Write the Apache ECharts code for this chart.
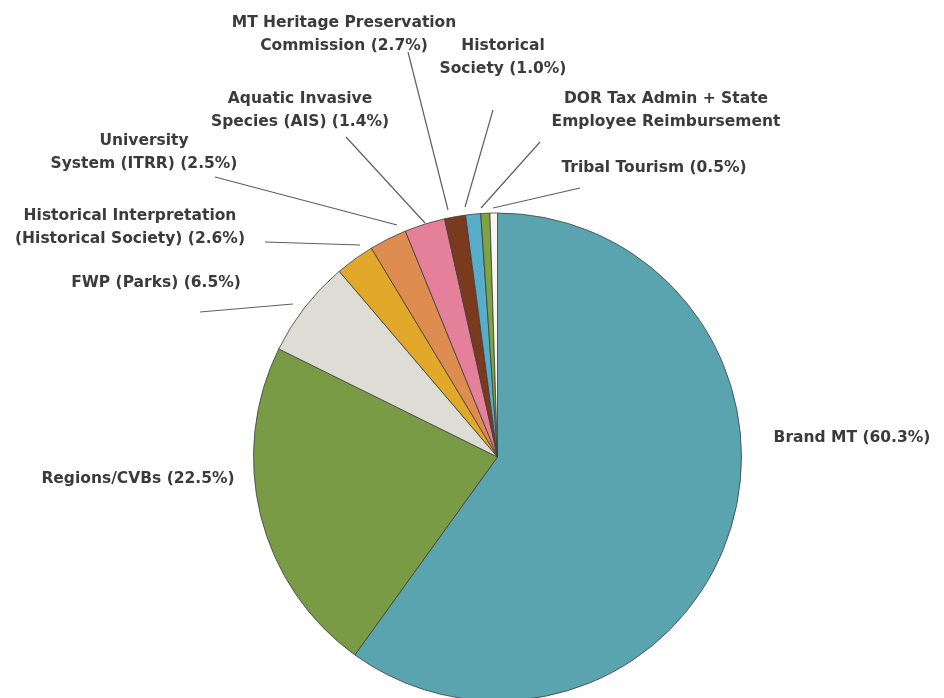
<!DOCTYPE html>
<html>
<head>
<meta charset="utf-8">
<title>Lodging Facility Use Tax Distribution</title>
<script src="https://cdn.jsdelivr.net/npm/echarts@6/dist/echarts.min.js"></script>
<style>
  html, body { margin: 0; padding: 0; background: #ffffff; }
  #chart { width: 944px; height: 698px; }
</style>
</head>
<body>
<div id="chart"></div>
<script>
// Program names, in slice order (clockwise from 12 o'clock)
const programs = [
  'Brand MT',
  'Regions/CVBs',
  'FWP (Parks)',
  'Historical Interpretation\n(Historical Society)',
  'University\nSystem (ITRR)',
  'MT Heritage Preservation\nCommission',
  'Aquatic Invasive\nSpecies (AIS)',
  'Historical\nSociety',
  'DOR Tax Admin + State\nEmployee Reimbursement',
  'Tribal Tourism'
];

// Share of the distribution, percent
const shares = [60.3, 22.5, 6.5, 2.6, 2.5, 2.7, 1.4, 1.0, 0.6, 0.5];

// Whether the label prints its percentage
const showShare = [true, true, true, true, true, true, true, true, false, true];

const sliceColors = [
  '#5aa4b0', '#7a9b46', '#deddd5', '#e2a82a', '#df8c50',
  '#e5809b', '#7a3a1d', '#57aec8', '#7ea33f', '#f6f6f2'
];

// Label placement: text centre and leader line (label end -> rim end)
const labelPlacement = [
  { at: [852, 438], line: null },
  { at: [138, 479], line: null },
  { at: [156, 283], line: [[200, 312], [293, 304]] },
  { at: [130, 227], line: [[265, 242], [360, 245]] },
  { at: [144, 152], line: [[215, 177], [397, 225]] },
  { at: [344, 34],  line: [[408, 52], [448, 210]] },
  { at: [300, 110], line: [[346, 137], [425, 223]] },
  { at: [503, 57],  line: [[493, 110], [465, 207]] },
  { at: [666, 110], line: [[540, 142], [481, 208]] },
  { at: [654, 168], line: [[580, 188], [493, 208]] }
];

const chart = echarts.init(document.getElementById('chart'), null, { renderer: 'canvas' });

const pieData = programs.map((name, i) => ({
  name: name,
  value: shares[i],
  itemStyle: { color: sliceColors[i] },
  labelLine: { show: !!labelPlacement[i].line }
}));

chart.setOption({
  backgroundColor: '#ffffff',
  animation: false,
  series: [{
    type: 'pie',
    center: [497.5, 457],
    radius: 244,
    startAngle: 90,
    clockwise: true,
    avoidLabelOverlap: false,
    data: pieData,
    itemStyle: {
      borderColor: '#3d3d3d',
      borderWidth: 0.8
    },
    label: {
      show: true,
      position: 'outside',
      color: '#3b3b3b',
      fontFamily: 'DejaVu Sans',
      fontWeight: 'bold',
      fontSize: 15.5,
      lineHeight: 23,
      align: 'center',
      formatter: function (p) {
        return showShare[p.dataIndex]
          ? p.name + ' (' + p.value.toFixed(1) + '%)'
          : p.name;
      }
    },
    labelLine: {
      show: true,
      lineStyle: { color: '#5f5f5f', width: 1.2 }
    },
    labelLayout: function (params) {
      const place = labelPlacement[params.dataIndex];
      const out = {
        x: place.at[0],
        y: place.at[1],
        align: 'center',
        verticalAlign: 'middle'
      };
      if (place.line) {
        out.labelLinePoints = place.line;
      }
      return out;
    }
  }]
});
</script>
</body>
</html>
